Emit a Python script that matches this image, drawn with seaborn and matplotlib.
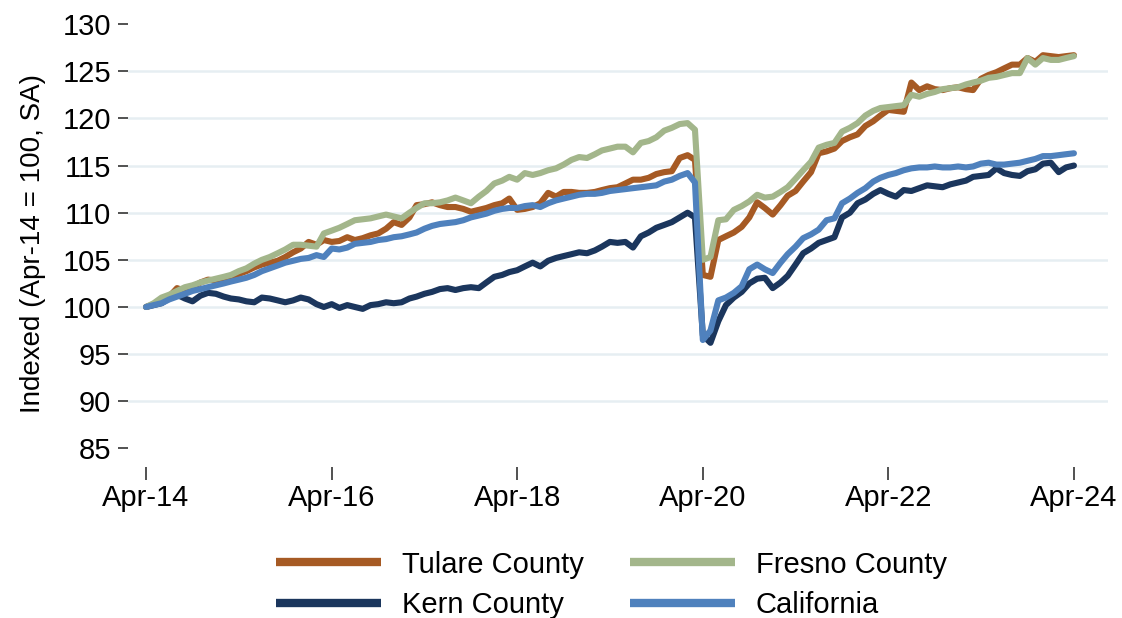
import pandas as pd
import seaborn as sns
import matplotlib.pyplot as plt
import matplotlib.dates as mdates


# monthly index values, Apr-14 .. Apr-24 (Apr-14 = 100, seasonally adjusted)
months = pd.date_range('2014-04-01', '2024-04-01', freq='MS')

tulare = [
    100.0, 100.3, 100.7, 101.1, 102.0, 101.7, 102.1, 102.6, 102.9, 102.8, 103.0, 103.2,
    103.5, 103.8, 104.2, 104.5, 104.7, 104.9, 105.3, 105.8, 106.2, 106.9, 106.6, 107.1,
    106.9, 107.0, 107.4, 107.1, 107.3, 107.6, 107.8, 108.3, 109.0, 108.7, 109.5, 110.8,
    110.9, 111.1, 110.8, 110.6, 110.6, 110.4, 110.1, 110.3, 110.5, 110.8, 111.0, 111.5,
    110.3, 110.4, 110.6, 111.0, 112.1, 111.7, 112.2, 112.2, 112.1, 112.1, 112.2, 112.4,
    112.6, 112.7, 113.1, 113.5, 113.5, 113.7, 114.1, 114.3, 114.4, 115.8, 116.1, 115.6,
    103.4, 103.2, 107.1, 107.5, 107.9, 108.5, 109.5, 111.1, 110.5, 109.8, 110.8, 111.8,
    112.3, 113.3, 114.3, 116.3, 116.5, 116.8, 117.6, 118.0, 118.3, 119.2, 119.7, 120.3,
    120.9, 120.8, 120.7, 123.8, 123.0, 123.4, 123.1, 123.0, 123.2, 123.3, 123.1, 123.0,
    124.2, 124.6, 124.9, 125.3, 125.7, 125.7, 126.4, 126.0, 126.7, 126.6, 126.5, 126.6,
    126.7,
]

fresno = [
    100.0, 100.4, 101.0, 101.3, 101.7, 102.1, 102.3, 102.6, 102.8, 103.0, 103.2, 103.4,
    103.8, 104.1, 104.6, 105.0, 105.3, 105.7, 106.1, 106.6, 106.6, 106.5, 106.4, 107.8,
    108.1, 108.4, 108.8, 109.2, 109.3, 109.4, 109.6, 109.8, 109.6, 109.4, 110.0, 110.5,
    111.0, 111.0, 111.1, 111.3, 111.6, 111.3, 111.0, 111.7, 112.3, 113.1, 113.4, 113.8,
    113.5, 114.2, 114.0, 114.2, 114.5, 114.7, 115.1, 115.6, 115.9, 115.8, 116.2, 116.6,
    116.8, 117.0, 117.0, 116.4, 117.4, 117.6, 118.0, 118.7, 119.0, 119.4, 119.5, 118.8,
    105.0, 105.3, 109.2, 109.3, 110.3, 110.7, 111.2, 111.9, 111.6, 111.7, 112.2, 112.7,
    113.6, 114.5, 115.4, 116.9, 117.2, 117.4, 118.6, 119.0, 119.5, 120.3, 120.8, 121.1,
    121.2, 121.3, 121.4, 122.5, 122.3, 122.6, 122.8, 123.1, 123.2, 123.3, 123.6, 123.8,
    124.0, 124.3, 124.4, 124.6, 124.8, 124.8, 126.4, 125.7, 126.4, 126.2, 126.2, 126.4,
    126.6,
]

kern = [
    100.0, 100.2, 100.4, 100.9, 101.3, 100.9, 100.6, 101.2, 101.5, 101.4, 101.1, 100.9,
    100.8, 100.6, 100.5, 101.0, 100.9, 100.7, 100.5, 100.7, 101.0, 100.8, 100.3, 100.0,
    100.3, 99.9, 100.2, 100.0, 99.8, 100.2, 100.3, 100.5, 100.4, 100.5, 100.9, 101.1,
    101.4, 101.6, 101.9, 102.0, 101.8, 102.0, 102.1, 102.0, 102.6, 103.2, 103.4, 103.7,
    103.9, 104.3, 104.7, 104.3, 104.9, 105.2, 105.4, 105.6, 105.8, 105.7, 106.0, 106.4,
    106.9, 106.8, 106.9, 106.3, 107.5, 107.9, 108.4, 108.7, 109.0, 109.5, 110.0, 109.5,
    97.0, 96.2, 98.5, 100.2, 101.0, 101.6, 102.5, 103.0, 103.1, 102.0, 102.6, 103.3,
    104.5, 105.7, 106.2, 106.8, 107.1, 107.4, 109.5, 110.0, 111.0, 111.4, 112.0, 112.4,
    112.0, 111.7, 112.4, 112.3, 112.6, 112.9, 112.8, 112.7, 113.0, 113.2, 113.4, 113.8,
    113.9, 114.0, 114.7, 114.2, 114.0, 113.9, 114.4, 114.6, 115.2, 115.3, 114.3, 114.8,
    115.0,
]

california = [
    100.0, 100.2, 100.4, 100.8, 101.1, 101.4, 101.7, 101.9, 102.1, 102.3, 102.5, 102.7,
    102.9, 103.1, 103.4, 103.8, 104.1, 104.4, 104.7, 104.9, 105.1, 105.2, 105.5, 105.3,
    106.2, 106.1, 106.3, 106.7, 106.8, 106.9, 107.1, 107.2, 107.4, 107.5, 107.7, 107.9,
    108.3, 108.6, 108.8, 108.9, 109.0, 109.2, 109.5, 109.7, 109.9, 110.2, 110.4, 110.5,
    110.5, 110.7, 110.8, 110.6, 111.0, 111.3, 111.5, 111.7, 111.9, 112.0, 112.0, 112.1,
    112.3, 112.4, 112.5, 112.6, 112.7, 112.8, 112.9, 113.3, 113.5, 113.9, 114.2, 113.2,
    96.5, 97.5, 100.7, 101.0, 101.5, 102.2, 104.0, 104.5, 104.0, 103.6, 104.7, 105.6,
    106.4, 107.3, 107.7, 108.2, 109.2, 109.4, 111.0, 111.5, 112.1, 112.6, 113.3, 113.7,
    114.0, 114.2, 114.5, 114.7, 114.8, 114.8, 114.9, 114.8, 114.8, 114.9, 114.8, 114.9,
    115.2, 115.3, 115.1, 115.1, 115.2, 115.3, 115.5, 115.7, 116.0, 116.0, 116.1, 116.2,
    116.3,
]

names = ['Kern County', 'Tulare County', 'Fresno County', 'California']
colors = {'Tulare County': '#A65A24', 'Fresno County': '#A3B68B',
          'Kern County': '#1B365D', 'California': '#4F81BD'}

df = pd.concat([
    pd.DataFrame({'date': months, 'value': tulare, 'area': 'Tulare County'}),
    pd.DataFrame({'date': months, 'value': fresno, 'area': 'Fresno County'}),
    pd.DataFrame({'date': months, 'value': kern, 'area': 'Kern County'}),
    pd.DataFrame({'date': months, 'value': california, 'area': 'California'}),
])

sns.set_style('white')
plt.rcParams['font.family'] = ['Liberation Sans', 'DejaVu Sans']
plt.rcParams['text.color'] = 'black'
plt.rcParams['axes.labelcolor'] = 'black'

fig = plt.figure(figsize=(11.22, 6.18), dpi=100)
ax = fig.add_axes([0.1141, 0.2443, 0.8734, 0.7233])

sns.lineplot(data=df, x='date', y='value', hue='area', hue_order=names,
             palette=colors, linewidth=4.4, ax=ax, legend=False)

ax.set_ylim(83.03, 130.43)
ax.set_yticks(range(85, 131, 5))
ax.set_xlim(pd.Timestamp('2014-04-01') - pd.Timedelta(days=71),
            pd.Timestamp('2024-04-01') + pd.Timedelta(days=134))
ax.set_xticks(pd.date_range('2014-04-01', '2024-04-01', freq='24MS'))
ax.xaxis.set_major_formatter(mdates.DateFormatter('%b-%y'))

ax.grid(axis='y', color='#E6EEF2', linewidth=1.8)
ax.grid(axis='x', visible=False)
gl = ax.yaxis.get_gridlines()
gl[0].set_visible(False)
gl[-1].set_visible(False)

for s in ax.spines.values():
    s.set_visible(False)

ax.tick_params(axis='y', left=True, length=7, width=1.1, pad=5,
               labelsize=21, color='#222222', labelcolor='black')
ax.tick_params(axis='x', bottom=True, length=9.5, width=1.1, pad=3,
               labelsize=21, color='#222222', labelcolor='black')
ax.set_xlabel('')
ax.set_ylabel('Indexed (Apr-14 = 100, SA)', fontsize=20, labelpad=12)

# legend: Tulare/Fresno on top row, Kern/California below
order = ['Tulare County', 'Kern County', 'Fresno County', 'California']
handles = [plt.Line2D([], [], color=colors[n], linewidth=6, solid_capstyle='butt')
           for n in order]
fig.legend(handles, order, loc='center', bbox_to_anchor=(0.545, 0.054),
           ncol=2, frameon=False, fontsize=21, handlelength=3.6,
           handletextpad=0.7, columnspacing=1.6, labelspacing=0.42)

plt.savefig('out.png', dpi=100)
